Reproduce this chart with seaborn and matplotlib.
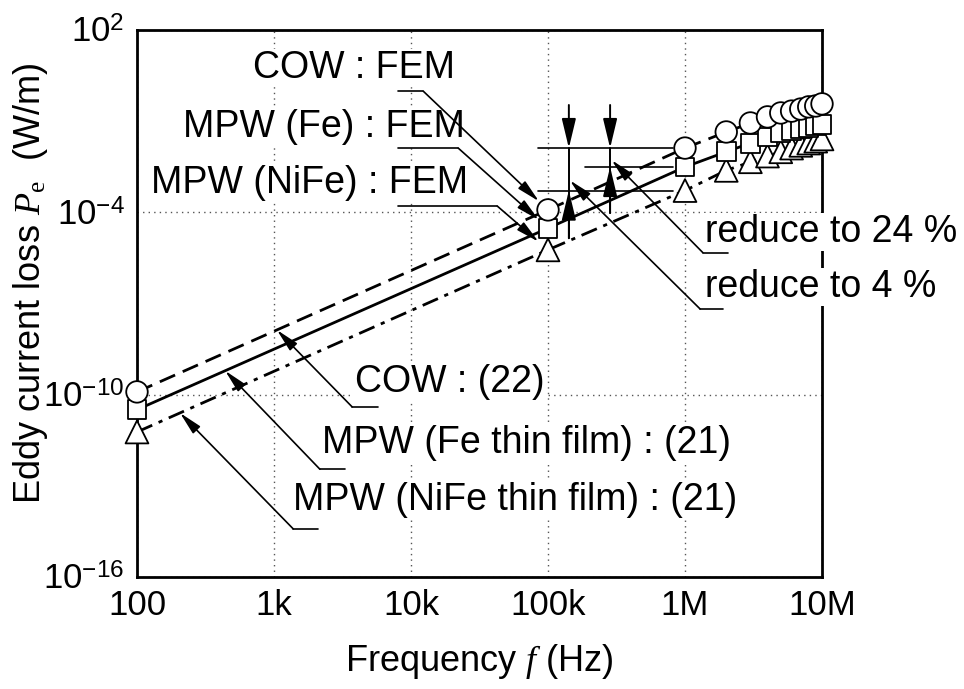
import numpy as np
import pandas as pd
import seaborn as sns
import matplotlib.pyplot as plt

# FEM results (markers)
freq = [1e2, 1e5, 1e6, 2e6, 3e6, 4e6, 5e6, 6e6, 7e6, 8e6, 9e6, 1e7]
cow_fem = [1.23e-10, 1.2e-4, 1.3e-2, 4.4e-2, 8.7e-2, 0.138, 0.186, 0.214, 0.25, 0.295, 0.316, 0.37]
fe_fem = [3.2e-11, 3.0e-5, 3.1e-3, 9.8e-3, 1.9e-2, 3.0e-2, 4.1e-2, 4.9e-2, 5.6e-2, 6.3e-2, 7.1e-2, 7.9e-2]
nife_fem = [5.9e-12, 5.8e-6, 5.2e-4, 2.4e-3, 4.6e-3, 7.1e-3, 9.8e-3, 1.3e-2, 1.6e-2, 1.9e-2, 2.2e-2, 2.6e-2]

# analytical curves, eq. (22) and (21)
theory_freq = [1e2, 1e5, 1e6, 2e6, 4e6, 1e7]
cow_eq22 = [1.23e-10, 1.2e-4, 1.3e-2, 4.4e-2, 0.138, 0.37]
fe_eq21 = [3.2e-11, 3.0e-5, 3.1e-3, 9.8e-3, 3.0e-2, 7.9e-2]
nife_eq21 = [5.9e-12, 5.8e-6, 5.2e-4, 2.4e-3, 7.1e-3, 2.6e-2]

xticks = [1e2, 1e3, 1e4, 1e5, 1e6, 1e7]
xticklabels = ['100', '1k', '10k', '100k', '1M', '10M']
yticks = [1e-16, 1e-10, 1e-4, 1e2]
yticklabels = [r'$10^{-16}$', r'$10^{-10}$', r'$10^{-4}$', r'$10^{2}$']

sns.set_theme(style='white')
plt.rcParams['font.family'] = ['Liberation Sans', 'DejaVu Sans']
plt.rcParams['mathtext.fontset'] = 'custom'
plt.rcParams['mathtext.rm'] = 'Liberation Sans'
plt.rcParams['mathtext.it'] = 'Liberation Serif:italic'
plt.rcParams['mathtext.cal'] = 'Liberation Serif'
plt.rcParams['text.color'] = 'black'
plt.rcParams['axes.labelcolor'] = 'black'

fem = pd.concat([
    pd.DataFrame({'f': freq, 'P': nife_fem, 'model': 'NiFe'}),
    pd.DataFrame({'f': freq, 'P': fe_fem, 'model': 'Fe'}),
    pd.DataFrame({'f': freq, 'P': cow_fem, 'model': 'COW'}),
])
theory = pd.concat([
    pd.DataFrame({'f': theory_freq, 'P': cow_eq22, 'model': 'COW'}),
    pd.DataFrame({'f': theory_freq, 'P': fe_eq21, 'model': 'Fe'}),
    pd.DataFrame({'f': theory_freq, 'P': nife_eq21, 'model': 'NiFe'}),
])

fig = plt.figure(figsize=(9.64, 6.89), dpi=100)
ax = fig.add_axes([0.1421, 0.1626, 0.7106, 0.7939])

sns.lineplot(data=theory, x='f', y='P', style='model', color='black', lw=2.0,
             dashes={'COW': (6, 3), 'Fe': '', 'NiFe': (6, 2.5, 1.5, 2.5)},
             estimator=None, sort=False, legend=False, ax=ax, zorder=3)
sns.scatterplot(data=fem, x='f', y='P', style='model', size='model',
                markers={'COW': 'o', 'Fe': 's', 'NiFe': '^'},
                sizes={'COW': 240, 'Fe': 185, 'NiFe': 270},
                color='white', edgecolor='black', linewidth=1.3,
                legend=False, ax=ax, zorder=4, clip_on=False)

ax.set_xscale('log')
ax.set_yscale('log')
ax.set_xlim(1e2, 1e7)
ax.set_ylim(1e-16, 1e2)
ax.set_xticks(xticks)
ax.set_xticklabels(xticklabels)
ax.set_yticks(yticks)
ax.set_yticklabels(yticklabels)
ax.minorticks_off()
ax.tick_params(direction='in', length=11, width=1.8, labelsize=25, pad=9,
               top=False, right=False, colors='black')
ax.grid(True, ls=(0, (1, 3)), color='#555555', lw=1.0)
for sp in ax.spines.values():
    sp.set_linewidth(2.0)
    sp.set_color('black')

ax.set_xlabel(r'Frequency $f$ (Hz)', fontsize=26)
ax.set_ylabel(r'Eddy current loss $P_{\mathcal{e}}$  (W/m)', fontsize=26)
ax.xaxis.set_label_coords(0.5, -0.118)
ax.yaxis.set_label_coords(-0.127, 0.537)

box = dict(facecolor='white', edgecolor='none', pad=0.5)
arrow_small = dict(arrowstyle='-|>,head_length=1.0,head_width=0.22', color='black',
                   lw=1.2, shrinkA=0, mutation_scale=14)


def on_line(f, ff, pp):
    return 10 ** np.interp(np.log10(f), np.log10(ff), np.log10(pp))


def leader(label, txy, ha, corner, seg_end, tip, tip_coords='data', shrink=0):
    ax.text(txy[0], txy[1], label, transform=ax.transAxes, ha=ha, va='center',
            fontsize=27, bbox=box, zorder=5)
    ax.plot([corner[0], seg_end[0]], [corner[1], seg_end[1]], transform=ax.transAxes,
            color='black', lw=1.2, zorder=6, clip_on=False)
    ax.annotate('', xy=tip, xycoords=tip_coords, xytext=corner, textcoords='axes fraction',
                arrowprops=dict(arrow_small, shrinkB=shrink), zorder=6)


# FEM labels
leader('COW : FEM', (0.464, 0.931), 'right', (0.418, 0.888), (0.381, 0.888),
       (freq[1], cow_fem[1]), shrink=9)
leader('MPW (Fe) : FEM', (0.479, 0.823), 'right', (0.469, 0.784), (0.381, 0.784),
       (freq[1], fe_fem[1]), shrink=9)
leader('MPW (NiFe) : FEM', (0.483, 0.720), 'right', (0.526, 0.678), (0.381, 0.678),
       (freq[1], nife_fem[1]), shrink=9)

# equation labels
leader('COW : (22)', (0.318, 0.356), 'left', (0.314, 0.311), (0.352, 0.311),
       (1.05e3, on_line(1.05e3, theory_freq, cow_eq22)))
leader('MPW (Fe thin film) : (21)', (0.270, 0.245), 'left', (0.267, 0.197), (0.304, 0.197),
       (440, on_line(440, theory_freq, fe_eq21)))
leader('MPW (NiFe thin film) : (21)', (0.228, 0.141), 'left', (0.228, 0.088), (0.264, 0.088),
       (206, on_line(206, theory_freq, nife_eq21)))

# reduction labels
leader('reduce to 24 %', (0.829, 0.631), 'left', (0.826, 0.593), (0.863, 0.593),
       (0.693, 0.762), tip_coords='axes fraction')
leader('reduce to 4 %', (0.829, 0.530), 'left', (0.822, 0.490), (0.855, 0.490),
       (0.632, 0.725), tip_coords='axes fraction')

# reference levels at 1 MHz
i1 = freq.index(1e6)
ax.plot([8.45e4, 8.2e5], [cow_fem[i1]] * 2, color='black', lw=1.2, zorder=2)
ax.plot([1.86e5, 8.2e5], [fe_fem[i1]] * 2, color='black', lw=1.2, zorder=2)
ax.plot([8.45e4, 8.2e5], [nife_fem[i1]] * 2, color='black', lw=1.2, zorder=2)

arrow_big = dict(arrowstyle='-|>,head_length=1.0,head_width=0.24', color='black',
                 lw=1.4, shrinkA=0, shrinkB=0, mutation_scale=18)
for xf, low, ybot in [(1.42e5, nife_fem[i1], 1.4e-5), (2.84e5, fe_fem[i1], 9.5e-5)]:
    ax.plot([xf, xf], [ybot, cow_fem[i1]], color='black', lw=1.4, zorder=2)
    ax.annotate('', xy=(xf, cow_fem[i1]), xytext=(xf, 0.34), arrowprops=arrow_big, zorder=6)
    ax.annotate('', xy=(xf, low), xytext=(xf, ybot), arrowprops=arrow_big, zorder=6)

plt.savefig('out.png', dpi=100)
